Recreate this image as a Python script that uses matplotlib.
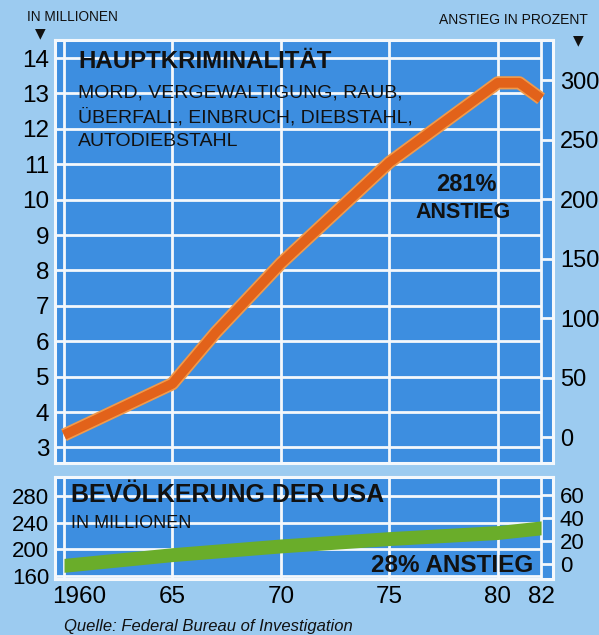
import matplotlib
matplotlib.use('Agg')
import matplotlib.pyplot as plt
import matplotlib.transforms as mtransforms

# crime index (millions)
years = [1960, 1965, 1967, 1970, 1975, 1980, 1981, 1982]
crimes = [3.35, 4.8, 6.25, 8.2, 11.05, 13.3, 13.3, 12.85]

# US population (millions)
pop_years = [1960, 1965, 1970, 1975, 1980, 1982]
population = [176, 192, 205, 216, 225, 232]

year_ticks = [1960, 1965, 1970, 1975, 1980, 1982]
year_labels = ['1960', '65', '70', '75', '80', '82']
crime_ticks = list(range(3, 15))
percent_ticks = [0, 50, 100, 150, 200, 250, 300]
pop_ticks = [160, 200, 240, 280]
pop_pct_ticks = [0, 20, 40, 60]

FONT = ['Liberation Sans Narrow', 'Liberation Sans', 'DejaVu Sans']
plt.rcParams['font.family'] = FONT

outer = '#9ccbf0'
panel = '#3d8ee0'
white = '#f4f8fc'

fig = plt.figure(figsize=(5.99, 6.35), dpi=100)
fig.patch.set_facecolor(outer)

W, H = 599.0, 635.0
def box(l, t, r, b):
    return [l / W, 1 - b / H, (r - l) / W, (b - t) / H]

xlim = (1959.585, 1982.55)

def style(ax, yt, ylim):
    ax.set_facecolor(panel)
    ax.set_xlim(xlim)
    ax.set_ylim(ylim)
    for s in ax.spines.values():
        s.set_color(white)
        s.set_linewidth(2.2)
    ax.hlines(yt, xlim[0], 1982, color=white, lw=2, zorder=1)
    ax.vlines(year_ticks, ylim[0], ylim[1], color=white, lw=2, zorder=1)
    ax.set_yticks(yt)
    ax.tick_params(axis='y', length=0, pad=4)

# top panel
ax = fig.add_axes(box(55, 40, 553, 463))
style(ax, crime_ticks, (2.56, 14.51))
ax.set_yticklabels([str(v) for v in crime_ticks], fontsize=17.5)
ax.set_xticks([])
ax.plot(years, crimes, color='#f29a4a', lw=9.5, solid_capstyle='butt',
        solid_joinstyle='round', zorder=3)
ax.plot(years, crimes, color='#e2621a', lw=7, solid_capstyle='butt',
        solid_joinstyle='round', zorder=4)

ax2 = ax.twinx()
ax2.set_ylim(-21.7, 333.6)
ax2.set_yticks(percent_ticks)
ax2.set_yticklabels([str(v) for v in percent_ticks], fontsize=17)
ax2.tick_params(axis='y', direction='in', length=9, width=2, color=white, pad=5)
for s in ax2.spines.values():
    s.set_visible(False)

# bottom panel
bx = fig.add_axes(box(55, 477, 553, 579))
style(bx, pop_ticks, (155.6, 308))
bx.set_yticklabels([str(v) for v in pop_ticks], fontsize=16)
bx.set_xticks(year_ticks)
bx.set_xticklabels(year_labels, fontsize=17.5)
bx.tick_params(axis='x', length=0, pad=5)
lab = bx.get_xticklabels()[0]
lab.set_transform(lab.get_transform() + mtransforms.ScaledTranslation(15 / 100, 0, fig.dpi_scale_trans))
lo = [p - 10.4 for p in population]
hi = [p + 10.4 for p in population]
bx.fill_between(pop_years, lo, hi, color='#6aad2a', lw=0, zorder=3)

bx2 = bx.twinx()
bx2.set_ylim(-12.9, 75.4)
bx2.set_yticks(pop_pct_ticks)
bx2.set_yticklabels([str(v) for v in pop_pct_ticks], fontsize=16)
bx2.tick_params(axis='y', direction='in', length=9, width=2, color=white, pad=5)
for s in bx2.spines.values():
    s.set_visible(False)

# texts
def ft(x, y, s, **kw):
    fig.text(x / W, 1 - y / H, s, va='center', color='#111111', **kw)

ft(78, 62, 'HAUPTKRIMINALITÄT', fontsize=17.3, fontweight='bold', zorder=10)
ft(78, 93, 'MORD, VERGEWALTIGUNG, RAUB,', fontsize=14, zorder=10)
ft(78, 117, 'ÜBERFALL, EINBRUCH, DIEBSTAHL,', fontsize=14, zorder=10)
ft(78, 141, 'AUTODIEBSTAHL', fontsize=14, zorder=10)
ft(466, 185, '281%', fontsize=17, fontweight='bold', ha='center', zorder=10)
ft(463, 213, 'ANSTIEG', fontsize=15.5, fontweight='bold', ha='center', zorder=10)
ft(71, 495, 'BEVÖLKERUNG DER USA', fontsize=18, fontweight='bold', zorder=10)
ft(71, 523, 'IN MILLIONEN', fontsize=13, zorder=10)
ft(533, 565, '28% ANSTIEG', fontsize=17.5, fontweight='bold', ha='right', zorder=10)
ft(27, 17, 'IN MILLIONEN', fontsize=9.8)
ft(40, 33, '▼', fontsize=10, ha='center', family='DejaVu Sans')
ft(588, 20, 'ANSTIEG IN PROZENT', fontsize=10, ha='right')
ft(578, 40, '▼', fontsize=10, ha='center', family='DejaVu Sans')
ft(64, 627, 'Quelle: Federal Bureau of Investigation', fontsize=12, style='italic')

fig.savefig('out.png', dpi=100, facecolor=outer)
